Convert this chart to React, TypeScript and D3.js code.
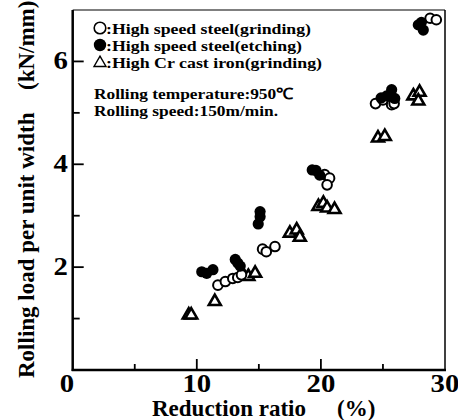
import * as d3 from "d3";

// reduction ratio (%) / rolling load (kN/mm)
const hssGrindX = [11.7, 12.3, 12.9, 13.3, 13.6, 15.3, 15.6, 16.3, 20.3, 20.7, 20.5, 24.4, 25.0, 25.7, 25.9, 28.8, 29.3];
const hssGrindY = [1.65, 1.72, 1.78, 1.80, 1.85, 2.35, 2.30, 2.40, 3.80, 3.73, 3.60, 5.18, 5.25, 5.16, 5.18, 6.84, 6.81];

const hssEtchX = [10.4, 10.8, 11.3, 13.1, 13.3, 13.5, 14.95, 15.1, 15.1, 19.3, 19.6, 19.9, 24.85, 25.3, 25.7, 25.95, 27.85, 28.1, 28.25];
const hssEtchY = [1.91, 1.88, 1.95, 2.15, 2.08, 2.02, 2.84, 2.98, 3.08, 3.89, 3.88, 3.79, 5.29, 5.33, 5.45, 5.28, 6.71, 6.76, 6.61];

const crIronX = [9.35, 9.55, 11.45, 13.75, 14.15, 14.7, 17.5, 18.05, 18.3, 19.8, 20.2, 20.5, 21.1, 24.6, 25.15, 27.45, 27.95, 27.85];
const crIronY = [1.07, 1.07, 1.33, 1.85, 1.82, 1.88, 2.66, 2.72, 2.58, 3.18, 3.24, 3.15, 3.12, 4.51, 4.54, 5.33, 5.40, 5.23];

const xTicks = [0, 10, 20, 30];
const xMinor = [5, 15, 25];
const yTicks = [2, 4, 6];
const yMinor = [1, 3, 5];

const legend = [
  ":High speed steel(grinding)",
  ":High speed steel(etching)",
  ":High Cr cast iron(grinding)",
];
const legendWidths = [205, 196, 216];
const notes = ["Rolling temperature:950\u2103", "Rolling speed:150m/min."];
const noteWidths = [199, 184];

const W = 458;
const H = 420;
const left = 72.7, right = 445, top = 10, bottom = 370;
const font = "'Liberation Serif', 'Times New Roman', serif";

const App = () => {
  const x = d3.scaleLinear().domain([0, 30]).range([left, right]);
  const y = d3.scaleLinear().domain([0, 7]).range([bottom, top]);
  const tri = d3.symbol().type(d3.symbolTriangle).size(62);

  return (
    <svg width={W} height={H} style={{ position: "absolute", left: 0, top: 0, background: "#fff" }}
      fontFamily={font} fontWeight="bold">
      {/* frame */}
      <line x1={left} x2={left} y1={top} y2={bottom + 1} stroke="#000" strokeWidth={2.5} />
      <line x1={left - 1} x2={right + 1} y1={bottom} y2={bottom} stroke="#000" strokeWidth={2.5} />
      <line x1={right} x2={right} y1={top} y2={bottom} stroke="#000" strokeWidth={1.5} />
      <line x1={left} x2={right} y1={top} y2={top} stroke="#000" strokeWidth={1.2} />

      {/* ticks */}
      {xTicks.slice(1, -1).map((t) => (
        <line key={"xt" + t} x1={x(t)} x2={x(t)} y1={bottom} y2={bottom - 11} stroke="#000" strokeWidth={1.8} />
      ))}
      {xMinor.map((t) => (
        <line key={"xm" + t} x1={x(t)} x2={x(t)} y1={bottom} y2={bottom - 6} stroke="#000" strokeWidth={1.8} />
      ))}
      {yTicks.map((t) => (
        <line key={"yt" + t} x1={left} x2={left + 11} y1={y(t)} y2={y(t)} stroke="#000" strokeWidth={1.8} />
      ))}
      {yMinor.map((t) => (
        <line key={"ym" + t} x1={left} x2={left + 7} y1={y(t)} y2={y(t)} stroke="#000" strokeWidth={1.8} />
      ))}

      {/* tick labels */}
      {xTicks.map((t) => (
        <text key={"xl" + t} x={x(t) - (t === 0 ? 5 : 0)} y={392} textAnchor="middle" fontSize={25}
          transform={`translate(${x(t)},0) scale(1.15,1) translate(${-x(t)},0)`}>
          {t}
        </text>
      ))}
      {yTicks.map((t) => (
        <text key={"yl" + t} x={68} y={y(t) + 8} textAnchor="end" fontSize={25}
          transform={`translate(68,0) scale(1.15,1) translate(-68,0)`}>
          {t}
        </text>
      ))}

      {/* axis titles */}
      <text x={152} y={416} fontSize={23}>Reduction ratio</text>
      <text x={337} y={416} fontSize={23}>(%)</text>
      <g transform="translate(34,0) rotate(-90)">
        <text x={-378} y={0} fontSize={23}>Rolling load per unit width</text>
        <text x={-90} y={0} fontSize={23}>(kN/mm)</text>
      </g>

      {/* legend */}
      <circle cx={100} cy={28} r={5.8} fill="none" stroke="#000" strokeWidth={1.6} />
      <circle cx={100} cy={45} r={6.2} fill="#000" />
      <path d={tri() as string} transform="translate(100,63)" fill="none" stroke="#000" strokeWidth={1.4} />
      {legend.map((s, i) => (
        <text key={s} x={106} y={34 + i * 17} fontSize={15.5} textLength={legendWidths[i]}
          lengthAdjust="spacingAndGlyphs">{s}</text>
      ))}
      {notes.map((s, i) => (
        <text key={s} x={94} y={99 + i * 16.5} fontSize={15.5} textLength={noteWidths[i]}
          lengthAdjust="spacingAndGlyphs">{s}</text>
      ))}

      {/* data */}
      {crIronX.map((v, i) => (
        <path key={"c" + i} d={tri() as string} transform={`translate(${x(v)},${y(crIronY[i])})`}
          fill="#fff" stroke="#000" strokeWidth={2.6} />
      ))}
      {hssGrindX.map((v, i) => (
        <circle key={"g" + i} cx={x(v)} cy={y(hssGrindY[i])} r={4.8} fill="#fff" stroke="#000" strokeWidth={2} />
      ))}
      {hssEtchX.map((v, i) => (
        <circle key={"e" + i} cx={x(v)} cy={y(hssEtchY[i])} r={5.6} fill="#000" />
      ))}
    </svg>
  );
};

export default App;
